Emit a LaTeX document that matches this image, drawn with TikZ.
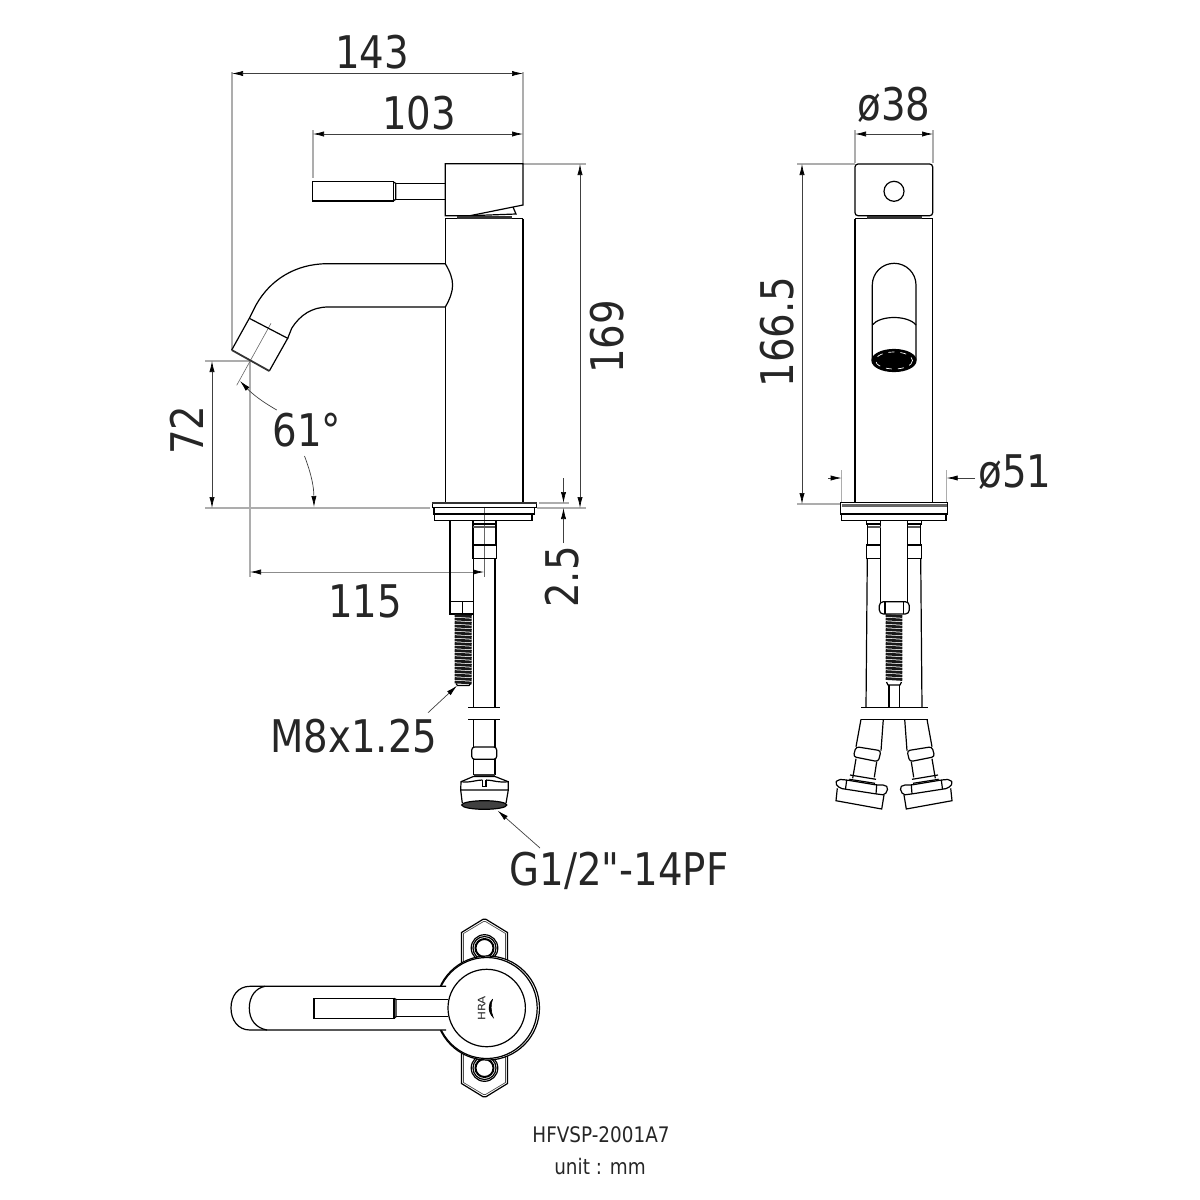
\documentclass[tikz,border=0pt]{standalone}
\usepackage{fontspec}
\usetikzlibrary{arrows.meta}
\newfontfamily\dimfont[FakeStretch=0.86]{DejaVu Sans}
\tikzset{
  part/.style={draw=black, line width=0.6pt},
  heavy/.style={draw=black!80, line width=1.3pt},
  extline/.style={draw=black!32, line width=0.7pt},
  dimline/.style={draw=black!75, line width=0.35pt, {Latex[length=5.5pt,width=2.6pt,black]}-{Latex[length=5.5pt,width=2.6pt,black]}},
  dimend/.style={draw=black!75, line width=0.35pt, -{Latex[length=5.5pt,width=2.6pt,black]}},
  centerline/.style={draw=black!60, line width=0.3pt},
  dimtext/.style={font=\dimfont\fontsize{22.5}{27}\selectfont, text=black!85, inner sep=0pt},
  smalltext/.style={font=\dimfont\fontsize{10.7}{13}\selectfont, text=black!85, inner sep=0pt},
  thread/.style={draw=black!90, line width=1.35pt}
}
\begin{document}
\begin{tikzpicture}[x=0.5pt, y=-0.5pt]
    \useasboundingbox (0,0) rectangle (1200,1200);

    \draw[extline] (232,72) -- (232,350);
    \draw[extline] (523,72) -- (523,163);
    \draw[extline] (313,130) -- (313,178);
    \draw[extline] (523,164) -- (586,164);
    \draw[extline] (205,361) -- (250,361);
    \draw[extline] (205,508) -- (430,508);
    \draw[extline] (250,361) -- (250,577);
    \draw[extline] (539,503) -- (569,503);
    \draw[extline] (537,508) -- (586,508);
    \draw[extline] (855,130) -- (855,163);
    \draw[extline] (933,130) -- (933,163);
    \draw[extline] (797,164) -- (855,164);
    \draw[extline] (797,504) -- (840,504);
    \draw[extline] (841.7,470) -- (841.7,503);
    \draw[extline] (946.7,470) -- (946.7,503);

    \coordinate (wideL) at (232,73.5);
    \coordinate (wideR) at (523,73.5);
    \coordinate (leverL) at (313,134);
    \coordinate (leverR) at (523,134);
    \coordinate (tallT) at (580,164);
    \coordinate (tallB) at (580,508);
    \coordinate (dropT) at (212,361);
    \coordinate (dropB) at (212,508);
    \coordinate (reachL) at (250,572);
    \coordinate (reachR) at (484,572);
    \coordinate (gapA) at (563.5,478);
    \coordinate (gapB) at (563.5,503);
    \coordinate (gapC) at (563.5,543);
    \coordinate (gapD) at (563.5,508);
    \coordinate (headL) at (855,134);
    \coordinate (headR) at (933,134);
    \coordinate (sideT) at (802,164);
    \coordinate (sideB) at (802,504);
    \coordinate (baseA) at (828,478);
    \coordinate (baseB) at (841.7,478);
    \coordinate (baseC) at (975,478);
    \coordinate (baseD) at (946.7,478);
    \draw[dimline] (wideL) -- (wideR);
    \draw[dimline] (leverL) -- (leverR);
    \draw[dimline] (tallT) -- (tallB);
    \draw[dimline] (dropT) -- (dropB);
    \draw[dimline, draw=black!45] (reachL) -- (reachR);
    \draw[dimend] (gapA) -- (gapB);
    \draw[dimend] (gapC) -- (gapD);
    \draw[dimline] (headL) -- (headR);
    \draw[dimline] (sideT) -- (sideB);
    \draw[dimend] (baseA) -- (baseB);
    \draw[dimend] (baseC) -- (baseD);

    \node[dimtext] (wide) at (372,52) {143};
    \node[dimtext] (lever) at (419,113) {103};
    \node[dimtext, rotate=90] (tall) at (607,337) {169};
    \node[dimtext, rotate=90] (drop) at (187,430) {72};
    \node[dimtext] (angle) at (307,430) {61°};
    \node[dimtext] (reach) at (365,601) {115};
    \node[dimtext, rotate=90] (gap) at (562,577) {2.5};
    \node[dimtext] (bolt) at (354,736) {M8x1.25};
    \node[dimtext] (inlet) at (619,871) {G1/2"-14PF};
    \node[dimtext] (head) at (894,105) {ø38};
    \node[dimtext, rotate=90] (side) at (777,332) {166.5};
    \node[dimtext] (base) at (1015,472) {ø51};
    \node[smalltext] (model) at (601,1135) {HFVSP-2001A7};
    \node[smalltext] (unit) at (600,1167) {unit : mm};

    \coordinate (boltA) at (428,712.7);
    \coordinate (boltB) at (457,685.7);
    \coordinate (inletA) at (540,848);
    \coordinate (inletB) at (497.7,810.7);
    \draw[dimend] (boltA) -- (boltB);
    \draw[dimend] (inletA) -- (inletB);
    \coordinate (arcA) at (276.7,410);
    \coordinate (arcB) at (240,381);
    \coordinate (arcC) at (304.5,456);
    \coordinate (arcD) at (314,507);
    \draw[dimend] (arcA) to[bend left=8] (arcB);
    \draw[dimend] (arcC) to[bend left=10] (arcD);
    \draw[centerline] (271,323.3) -- (236.7,385.3);
    \draw[centerline] (484.3,506) -- (484.3,577);

    \draw[part] (445.3,218.7) -- (445.3,263.7);
    \draw[part] (445.3,307) -- (445.3,502.7);
    \draw[part] (523,218.7) -- (523,502.7);
    \draw[part] (445.3,218.7) -- (523,218.7);
    \draw[part] (445.3,215.7) -- (445.3,163.7) -- (523,163.7) -- (523,205) -- (470,215.7) -- cycle;
    \draw[part] (513,207) -- (516,214) -- (470,215.7);
    \draw[heavy] (457,217.7) -- (512,217.7);
    \draw[part] (312.7,181.7) rectangle (393.3,201);
    \draw[part] (393.3,182) -- (395.7,183.3) -- (395.7,199.3) -- (393.3,201);
    \draw[part] (395.7,183.3) rectangle (445.3,199.3);
    \draw[part] (445.3,263.7) -- (326.7,263.7) .. controls (295,264) and (270,280) .. (256,305) -- (249.3,318.3);
    \draw[part] (445.3,307) -- (328.3,307) .. controls (312,307) and (300,315) .. (291.7,328.3) -- (287.7,338.3);
    \draw[part] (445.3,263.7) .. controls (455,280) and (455,290) .. (445.3,307);
    \draw[part] (249.3,318.3) -- (231.7,350);
    \draw[part] (269.3,371) -- (287.7,338.3) -- (249.3,318.3);
    \draw[heavy, line width=0.9pt] (231.7,350) -- (269.3,371);

    \draw[part, fill=white] (432.3,502.7) rectangle (536.7,507.7);
    \draw[heavy, line width=1pt] (432.3,503.3) -- (536.7,503.3);
    \draw[part] (434,507.7) -- (434,514) -- (534.3,514) -- (534.3,507.7);
    \draw[part] (434.7,514) -- (434.7,520.7) -- (532,520.7) -- (532,514);

    \draw[part] (450,520.7) -- (450,601.7);
    \draw[part] (473.3,520.7) -- (473.3,601.7);
    \draw[part] (450,601.7) rectangle (473.3,614);
    \draw[part] (462.7,601.7) -- (462.7,614);
    \foreach \ty in {615.5,619,...,682}
        \draw[thread] (454.7,\ty) -- (471.7,\ty+1);
    \draw[part] (456,683.5) -- (457.5,685.5) -- (469,685.5) -- (470.5,683.5);

    \draw[part] (472.7,520.7) -- (472.7,524) -- (496,524) -- (496,520.7);
    \draw[heavy, line width=1.2pt, draw=black!65] (473,527) -- (495.7,527);
    \draw[part] (472.7,524) -- (472.7,545);
    \draw[part] (496,524) -- (496,545);
    \draw[part] (472.7,545) rectangle (496.7,558.3);
    \draw[part] (473.3,558.3) -- (473.3,707.7);
    \draw[part] (495,558.3) -- (495,707.7);
    \draw[part] (468.3,707.7) -- (500,707.7);
    \draw[part] (468.3,719.7) -- (500,719.7);
    \draw[part] (473.3,719.7) -- (473.3,747);
    \draw[part] (495,719.7) -- (495,747);
    \draw[part, rounded corners=1.5pt] (471.7,747) rectangle (496.7,759.3);
    \draw[part] (473.3,759.3) -- (473.3,775);
    \draw[part] (495,759.3) -- (495,775);
    \draw[heavy] (473.5,775.5) -- (494.5,775.5);
    \draw[part] (461,781.7) -- (473.3,776.5) -- (495,776.5) -- (508.3,781.7) -- (508.3,790) -- (460.7,790) -- cycle;
    \draw[part] (461,781.7) .. controls (470,783) and (476,780) .. (482.3,780);
    \draw[part] (508.3,781.7) .. controls (499,783) and (492,780) .. (486,780);
    \draw[part] (482.3,780) -- (482.3,786.5) -- (486,786.5) -- (486,780);
    \draw[part] (460.7,790) -- (462.3,803.3);
    \draw[part] (508.3,790) -- (506,803.3);
    \draw[part, fill=black!75] (484.3,805) ellipse (22.5 and 4.3);

    \draw[part, fill=white] (840.7,502.7) rectangle (947.3,514);
    \draw[heavy, line width=1.6pt, draw=black!60] (841.5,505.5) -- (946.5,505.5);
    \draw[part] (841.7,514) -- (841.7,520.7) -- (946,520.7) -- (946,514);
    \draw[part] (855,218.7) -- (855,502.7);
    \draw[part] (932.7,218.7) -- (932.7,502.7);
    \draw[part] (855,218.7) -- (932.7,218.7);
    \draw[part, rounded corners=1.5pt] (855,164) -- (855,215.7) -- (932.7,215.7) -- (932.7,164) -- cycle;
    \draw[part] (894,191.3) circle (10);
    \draw[heavy] (866.7,217.7) -- (921.7,217.7);
    \draw[part] (872.3,360) -- (872.3,285) arc[start angle=180, end angle=360, x radius=21.85, y radius=21.7] -- (916,360);
    \draw[part] (872.3,325) .. controls (880,315) and (908,315) .. (916,325);
    \draw[part, fill=black] (894,360.5) ellipse (22 and 11);
    \draw[draw=white, line width=0.35pt, dashed] (894,360.5) ellipse (18.5 and 8.5);

    \draw[part] (880.7,520.7) -- (880.7,601.7);
    \draw[part] (907.3,520.7) -- (907.3,601.7);
    \draw[part, rounded corners=2pt] (879.3,601.7) rectangle (909.3,614);
    \draw[part] (885,601.7) -- (885,614);
    \draw[part] (903.3,601.7) -- (903.3,614);
    \foreach \ty in {615.5,619,...,680}
        \draw[thread] (885.7,\ty) -- (902.3,\ty+1);
    \draw[part] (886.5,682) -- (888,685) -- (900,685) -- (901.5,682);
    \draw[part] (889,685) -- (889,707.7);
    \draw[part] (899.3,685) -- (899.3,707.7);
    \draw[part] (861,707.7) -- (927.7,707.7);
    \draw[part] (861,719.3) -- (927.7,719.3);

    \foreach \m in {1,-1} {
        \begin{scope}[shift={(894,0)}, xscale=\m]
            \draw[part] (-27.3,520.7) -- (-27.3,524) -- (-13.3,524);
            \draw[heavy, line width=1.2pt, draw=black!65] (-27,527) -- (-13.5,527);
            \draw[part] (-26.7,524) -- (-26.7,545);
            \draw[part] (-27.3,545) rectangle (-13.3,558.3);
            \draw[part] (-26.7,558.3) -- (-28,707.7);
            \draw[part] (-33,719.3) -- (-38,746.7);
            \draw[part] (-10.7,719.3) -- (-13,750.7);
            \draw[part, rounded corners=1.5pt] (-38,746.7) -- (-40.7,756.7) -- (-15.7,761.7) -- (-13,750.7) -- cycle;
            \draw[part] (-38,758.7) -- (-41.3,778.3);
            \draw[part] (-17.3,761.7) -- (-19.7,777.3);
            \draw[part] (-44,775) -- (-18,779.3);
            \draw[part] (-44.7,779.3) -- (-19,783.3);
            \draw[part, rounded corners=1pt] (-59,783.3) -- (-55.7,779.3) -- (-47.3,780) -- (-17.3,785) -- (-9,785) -- (-5.7,787.7) -- (-9,795) -- (-17.3,794) -- (-54,788.3) -- cycle;
            \draw[part] (-47.3,780) -- (-48.5,789);
            \draw[part] (-17.3,785) -- (-18,794);
            \draw[part] (-56.7,788.3) -- (-58,800.7) -- (-12.3,809) -- (-10,795);
        \end{scope}
    }

    \foreach \m in {1,-1} {
        \begin{scope}[shift={(484.5,1008)}, yscale=\m]
            \draw[part] (-23,-40) -- (-23,-75.5) -- (-1.5,-88.7) -- (1.5,-88.7) -- (23,-75.5) -- (23,-40);
            \draw[part, draw=black!70, line width=0.35pt] (-21,-40) -- (-21,-74.5) -- (-1,-86.5) -- (1,-86.5) -- (21,-74.5) -- (21,-40);
            \draw[part] (0,-60) circle (13.3);
            \draw[part] (0,-60) circle (11.5);
            \draw[part, line width=1pt] (0,-60) circle (9);
        \end{scope}
    }
    \draw[part, fill=white] (487.5,1008) circle (52);
    \draw[part, fill=white] (486.7,1008) circle (50.5);
    \draw[part, fill=white] (446,986.3) -- (250,986.3) .. controls (238,986.3) and (231,996) .. (231,1008) .. controls (231,1020) and (238,1030) .. (250,1030) -- (446,1030);
    \draw[part] (265,986.3) .. controls (256,988) and (249.3,996) .. (249.3,1008) .. controls (249.3,1020) and (256,1028) .. (267,1030);
    \draw[part, fill=white] (486.7,1008) circle (38.7);
    \draw[part] (314,998.3) rectangle (394,1018.3);
    \draw[part] (396,999.3) -- (447.5,999.3);
    \draw[part] (396,1016.7) -- (447.5,1016.7);
    \draw[part] (394,998.3) -- (396,999.3) -- (396,1016.7) -- (394,1018.3);
    \node[font=\dimfont\fontsize{6}{8}\selectfont, text=black!85, inner sep=0pt, rotate=90, xscale=1.15, yscale=0.85] (logo) at (481.7,1008.3) {HRA};
    \draw[part, fill=black, line width=0.3pt] (492.7,999) .. controls (488,1003) and (487.5,1012) .. (493.3,1017.5) .. controls (490.5,1011) and (490.5,1004) .. (492.7,999);
\end{tikzpicture}
\end{document}
